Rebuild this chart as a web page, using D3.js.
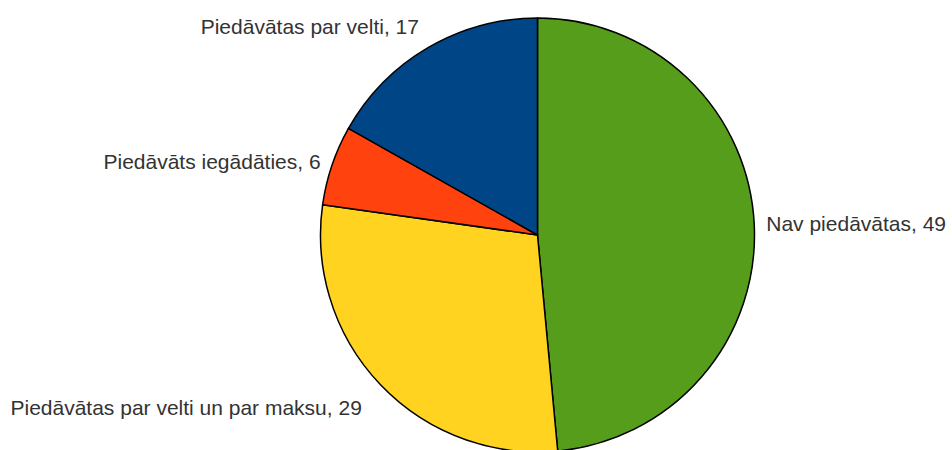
<!DOCTYPE html>
<html>
<head>
<meta charset="utf-8">
<script src="https://cdn.jsdelivr.net/npm/d3@7"></script>
<style>
  html, body { margin: 0; padding: 0; background: #fff; }
  svg { display: block; }
  .label { font-family: "Liberation Sans", Arial, sans-serif; font-size: 21px; fill: #333; }
</style>
</head>
<body>
<svg id="chart"></svg>
<script>
// dati
const categories = ["Nav piedāvātas", "Piedāvātas par velti un par maksu", "Piedāvāts iegādāties", "Piedāvātas par velti"];
const values = [49, 29, 6, 17];
const colors = ["#579d1c", "#ffd320", "#ff420e", "#004586"];

const width = 952;
const height = 450;
const cx = 537.5, cy = 235, radius = 217;
const labelRadius = radius + 12;
// small per-label nudges (LibreOffice best-fit placement)
const labelNudge = { "Nav piedāvātas": [0, 0], "Piedāvātas par velti un par maksu": [-10, 6], "Piedāvāts iegādāties": [0, 4], "Piedāvātas par velti": [-3, 0] };

const svg = d3.select("#chart").attr("width", width).attr("height", height);

const pie = d3.pie().sort(null).value(d => d.value);
const arc = d3.arc().innerRadius(0).outerRadius(radius);

const slices = pie(categories.map((c, i) => ({ name: c, value: values[i], color: colors[i] })));

const g = svg.append("g").attr("transform", `translate(${cx},${cy})`);

g.selectAll("path")
    .data(slices)
    .enter()
    .append("path")
    .attr("d", arc)
    .attr("fill", d => d.data.color)
    .attr("stroke", "#000")
    .attr("stroke-width", 1.5)
    .attr("stroke-linejoin", "round");

g.selectAll(".label")
    .data(slices)
    .enter()
    .append("text")
    .attr("class", "label")
    .each(function(d) {
        const a = (d.startAngle + d.endAngle) / 2;
        const s = Math.sin(a), c = Math.cos(a);
        const nudge = labelNudge[d.data.name];
        const x = labelRadius * s + nudge[0];
        const yCenter = -labelRadius * c - c * 12;
        d3.select(this)
            .attr("x", x)
            .attr("y", yCenter + 7.5 + nudge[1])
            .attr("text-anchor", s > 0 ? "start" : "end");
    })
    .text(d => `${d.data.name}, ${d.data.value}`);
</script>
</body>
</html>
